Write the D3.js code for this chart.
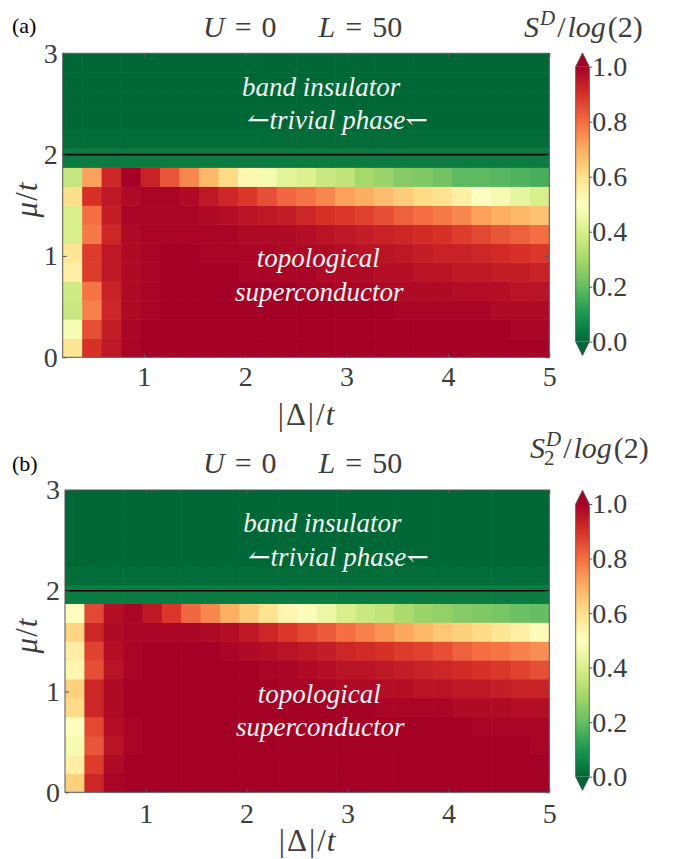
<!DOCTYPE html>
<html><head><meta charset="utf-8">
<script src="https://cdn.jsdelivr.net/npm/d3@7"></script>
<style>body{margin:0;background:#fff} svg{display:block} svg text{font-family:"Liberation Serif","DejaVu Serif",serif !important;}</style>
</head><body>
<svg id="chart" width="685" height="859"></svg>
<script>
// ---------------- data ----------------
const deltaValues = [0.2,0.4,0.6,0.8,1.0,1.2,1.4,1.6,1.8,2.0,2.2,2.4,2.6,2.8,3.0,3.2,3.4,3.6,3.8,4.0,4.2,4.4,4.6,4.8,5.0];
const muValues = [0.0,0.2,0.4,0.6,0.8,1.0,1.2,1.4,1.6,1.8,2.0,2.2,2.4,2.6,2.8,3.0];
const deltaTicks = [1,2,3,4,5];
const muTicks = [0,1,2,3];
const colorbarTicks = [0.0,0.2,0.4,0.6,0.8,1.0];
const colormapStops = ['#006837','#1a9850','#66bd63','#a6d96a','#d9ef8b','#ffffbf','#fee08b','#fdae61','#f46d43','#d73027','#a50026'];

// S^D/log(2), rows = mu (bottom to top), columns = |Delta|
const entropyA = [
 [0.58,0.90,0.95,0.99,1.00,1.00,1.00,1.00,1.00,1.00,1.00,1.00,1.00,1.00,1.00,1.00,1.00,1.00,1.00,1.00,1.00,1.00,1.00,1.00,1.00],
 [0.48,0.85,0.94,0.99,1.00,1.00,1.00,1.00,1.00,1.00,1.00,1.00,1.00,1.00,1.00,1.00,1.00,1.00,1.00,1.00,1.00,1.00,1.00,0.99,0.99],
 [0.37,0.77,0.92,0.98,0.99,1.00,1.00,1.00,1.00,1.00,1.00,1.00,1.00,1.00,1.00,1.00,1.00,0.99,0.99,0.99,0.99,0.99,0.98,0.98,0.98],
 [0.38,0.79,0.93,0.98,0.99,1.00,1.00,1.00,1.00,1.00,1.00,1.00,0.99,0.99,0.99,0.99,0.98,0.98,0.98,0.98,0.97,0.97,0.97,0.96,0.96],
 [0.55,0.88,0.95,0.98,0.99,1.00,1.00,1.00,1.00,0.99,0.99,0.99,0.99,0.98,0.98,0.98,0.97,0.97,0.96,0.96,0.95,0.95,0.94,0.94,0.93],
 [0.58,0.88,0.95,0.98,0.99,1.00,1.00,0.99,0.99,0.99,0.99,0.98,0.98,0.98,0.97,0.96,0.96,0.95,0.94,0.93,0.93,0.92,0.91,0.90,0.89],
 [0.40,0.78,0.92,0.98,0.99,0.99,0.99,0.99,0.99,0.98,0.98,0.98,0.97,0.96,0.95,0.94,0.93,0.92,0.91,0.90,0.88,0.86,0.84,0.82,0.80],
 [0.40,0.80,0.94,0.99,0.99,0.99,0.99,0.98,0.97,0.96,0.95,0.94,0.92,0.90,0.89,0.87,0.85,0.82,0.80,0.78,0.76,0.72,0.70,0.68,0.66],
 [0.60,0.90,0.95,0.98,0.99,0.99,0.98,0.95,0.92,0.89,0.85,0.81,0.79,0.76,0.72,0.70,0.67,0.64,0.61,0.59,0.55,0.50,0.47,0.44,0.40],
 [0.36,0.72,0.92,1.00,0.93,0.84,0.76,0.68,0.61,0.53,0.47,0.43,0.41,0.37,0.35,0.30,0.28,0.25,0.24,0.22,0.19,0.19,0.18,0.17,0.16],
 [0.04,0.04,0.04,0.04,0.04,0.04,0.04,0.04,0.04,0.04,0.04,0.04,0.04,0.04,0.04,0.04,0.04,0.04,0.04,0.04,0.04,0.04,0.04,0.04,0.04],
 [0.01,0.01,0.01,0.01,0.01,0.01,0.01,0.01,0.01,0.01,0.01,0.01,0.01,0.01,0.01,0.01,0.01,0.01,0.01,0.01,0.01,0.01,0.01,0.01,0.01],
 [0,0,0,0,0,0,0,0,0,0,0,0,0,0,0,0,0,0,0,0,0,0,0,0,0],
 [0,0,0,0,0,0,0,0,0,0,0,0,0,0,0,0,0,0,0,0,0,0,0,0,0],
 [0,0,0,0,0,0,0,0,0,0,0,0,0,0,0,0,0,0,0,0,0,0,0,0,0],
 [0,0,0,0,0,0,0,0,0,0,0,0,0,0,0,0,0,0,0,0,0,0,0,0,0]
];

// S_2^D/log(2)
const entropyB = [
 [0.63,0.92,0.99,1.00,1.00,1.00,1.00,1.00,1.00,1.00,1.00,1.00,1.00,1.00,1.00,1.00,1.00,1.00,1.00,1.00,1.00,1.00,1.00,1.00,1.00],
 [0.55,0.88,0.98,1.00,1.00,1.00,1.00,1.00,1.00,1.00,1.00,1.00,1.00,1.00,1.00,1.00,1.00,1.00,1.00,1.00,1.00,1.00,1.00,1.00,1.00],
 [0.47,0.84,0.96,0.99,1.00,1.00,1.00,1.00,1.00,1.00,1.00,1.00,1.00,1.00,1.00,1.00,1.00,1.00,1.00,1.00,1.00,1.00,1.00,1.00,0.99],
 [0.50,0.86,0.97,0.99,1.00,1.00,1.00,1.00,1.00,1.00,1.00,1.00,1.00,1.00,1.00,1.00,1.00,1.00,1.00,1.00,1.00,0.99,0.99,0.99,0.99],
 [0.61,0.92,0.98,1.00,1.00,1.00,1.00,1.00,1.00,1.00,1.00,1.00,1.00,1.00,1.00,1.00,0.99,0.99,0.99,0.99,0.98,0.98,0.98,0.97,0.97],
 [0.63,0.92,0.98,1.00,1.00,1.00,1.00,1.00,1.00,1.00,1.00,0.99,0.99,0.99,0.98,0.98,0.97,0.97,0.96,0.96,0.95,0.95,0.94,0.93,0.93],
 [0.53,0.85,0.96,0.99,1.00,1.00,1.00,1.00,1.00,1.00,0.99,0.99,0.98,0.97,0.96,0.96,0.95,0.94,0.93,0.92,0.91,0.90,0.89,0.87,0.85],
 [0.55,0.87,0.97,0.99,1.00,1.00,1.00,1.00,0.99,0.98,0.97,0.96,0.95,0.94,0.92,0.91,0.90,0.88,0.87,0.85,0.82,0.80,0.79,0.77,0.75],
 [0.62,0.92,0.98,0.99,0.99,0.99,0.99,0.98,0.97,0.95,0.92,0.89,0.86,0.83,0.80,0.77,0.74,0.71,0.68,0.65,0.63,0.61,0.58,0.55,0.51],
 [0.50,0.86,0.97,0.99,0.95,0.89,0.81,0.76,0.70,0.64,0.59,0.53,0.49,0.45,0.40,0.37,0.35,0.31,0.28,0.27,0.25,0.24,0.23,0.21,0.20],
 [0.04,0.04,0.04,0.04,0.04,0.04,0.04,0.04,0.04,0.04,0.04,0.04,0.04,0.04,0.04,0.04,0.04,0.04,0.04,0.04,0.04,0.04,0.04,0.04,0.04],
 [0.01,0.01,0.01,0.01,0.01,0.01,0.01,0.01,0.01,0.01,0.01,0.01,0.01,0.01,0.01,0.01,0.01,0.01,0.01,0.01,0.01,0.01,0.01,0.01,0.01],
 [0,0,0,0,0,0,0,0,0,0,0,0,0,0,0,0,0,0,0,0,0,0,0,0,0],
 [0,0,0,0,0,0,0,0,0,0,0,0,0,0,0,0,0,0,0,0,0,0,0,0,0],
 [0,0,0,0,0,0,0,0,0,0,0,0,0,0,0,0,0,0,0,0,0,0,0,0,0],
 [0,0,0,0,0,0,0,0,0,0,0,0,0,0,0,0,0,0,0,0,0,0,0,0,0]
];

const panelLabels = ['(a)','(b)'];
const phaseTexts = ['band insulator','\u21BCtrivial phase\u21BD','topological','superconductor'];

// ---------------- layout / style ----------------
const FONT = '"Liberation Serif","DejaVu Serif",serif';
const TXT = '#3d3d3d';
const AX = '#555555';
const svg = d3.select('#chart');

const cmap = d3.scaleLinear()
  .domain(colormapStops.map((c,i)=>i/(colormapStops.length-1)))
  .range(colormapStops).interpolate(d3.interpolateRgb).clamp(true);

const panels = [
  {grid: entropyA, tag: panelLabels[0], left:62.7, right:549.3, top:53.3, bottom:357.3,
   xPad:9, xLabelY:425, yLabelY:200, titleY:37, tagY:33,
   cbTop:66.7, cbBottom:341.7, cbLabelY:37, cbLabelX:524, sub:false},
  {grid: entropyB, tag: panelLabels[1], left:65, right:549.3, top:490, bottom:792.3,
   xPad:11, xLabelY:851, yLabelY:636, titleY:473, tagY:471,
   cbTop:504, cbBottom:776.7, cbLabelY:458, cbLabelX:530, sub:true}
];

const measurer = svg.append('text').attr('visibility','hidden');
function measure(str, size, italic){
  measurer.attr('font-size',size).attr('font-style',italic?'italic':'normal').text(str);
  return measurer.node().getComputedTextLength();
}

panels.forEach((p,pi)=>{
  const g = svg.append('g');
  const x = d3.scaleLinear().domain([0.2,5]).range([p.left,p.right]);
  const y = d3.scaleLinear().domain([0,3]).range([p.bottom,p.top]);
  const xb = d3.scaleBand().domain(deltaValues).range([x(0.2), x(5)]);
  const yb = d3.scaleBand().domain(muValues).range([y(0), y(3)]);

  const clipId = 'clip'+pi;
  svg.append('clipPath').attr('id',clipId).append('rect')
    .attr('x',p.left).attr('y',p.top).attr('width',p.right-p.left).attr('height',p.bottom-p.top);

  const cells = [];
  p.grid.forEach((row,i)=>row.forEach((v,j)=>cells.push({mu:muValues[i], delta:deltaValues[j], v})));
  g.append('g').attr('clip-path',`url(#${clipId})`)
    .selectAll('rect').data(cells).join('rect')
    .attr('x',d=>xb(d.delta)).attr('y',d=>yb(d.mu))
    .attr('width',xb.bandwidth()+0.6).attr('height',yb.bandwidth()+0.6)
    .attr('fill',d=>cmap(d.v));

  // phase boundary line at mu = 2
  g.append('line').attr('x1',p.left).attr('x2',p.right).attr('y1',y(2)).attr('y2',y(2))
    .attr('stroke','#000').attr('stroke-width',1.6);

  // annotations
  const ann = [
    {t:phaseTexts[0], x:x(2.75), y:y(2.58)},
    {t:phaseTexts[1], x:x(2.91), y:y(2.25)},
    {t:phaseTexts[2], x:x(2.72), y:y(0.89)},
    {t:phaseTexts[3], x:x(2.73), y:y(0.56)}
  ];
  g.selectAll('text.ann').data(ann).join('text').attr('class','ann')
    .attr('x',d=>d.x).attr('y',d=>d.y).attr('text-anchor','middle')
    .attr('font-style','italic').attr('font-size',27)
    .attr('fill','#f4f4f4').text(d=>d.t);

  // axes
  const styleAxis = sel => {
    sel.attr('font-family',null);
    sel.select('.domain').remove();
    sel.selectAll('line').attr('stroke',AX).attr('stroke-width',1);
    sel.selectAll('text').attr('font-size',28).attr('fill',TXT);
  };
  g.append('g').attr('transform',`translate(0,${p.bottom})`)
    .call(d3.axisBottom(x).tickValues(deltaTicks).tickFormat(d3.format('d')).tickSize(-4).tickPadding(p.xPad)).call(styleAxis);
  g.append('g').attr('transform',`translate(0,${p.top})`)
    .call(d3.axisTop(x).tickValues(deltaTicks).tickFormat('').tickSize(-4)).call(styleAxis);
  g.append('g').attr('transform',`translate(${p.left},0)`)
    .call(d3.axisLeft(y).tickValues(muTicks).tickFormat(d3.format('d')).tickSize(-4).tickPadding(5)).call(styleAxis);
  g.append('g').attr('transform',`translate(${p.right},0)`)
    .call(d3.axisRight(y).tickValues(muTicks).tickFormat('').tickSize(-4)).call(styleAxis);

  g.append('rect').attr('x',p.left).attr('y',p.top).attr('width',p.right-p.left).attr('height',p.bottom-p.top)
    .attr('fill','none').attr('stroke',AX).attr('stroke-width',1);

  // axis labels
  const xl = g.append('text').attr('x',x(2.6)).attr('y',p.xLabelY).attr('text-anchor','middle')
    .attr('font-size',31).attr('fill',TXT);
  xl.append('tspan').text('|');
  xl.append('tspan').attr('dx',2).text('\u0394');
  xl.append('tspan').attr('dx',2).text('|');
  xl.append('tspan').attr('dx',2).text('/');
  xl.append('tspan').attr('dx',1).attr('font-style','italic').text('t');

  const yl = g.append('text').attr('transform',`translate(37,${p.yLabelY}) rotate(-90)`).attr('text-anchor','middle')
    .attr('font-size',31).attr('fill',TXT);
  yl.append('tspan').attr('font-style','italic').text('\u03BC');
  yl.append('tspan').attr('dx',1).text('/');
  yl.append('tspan').attr('dx',1).attr('font-style','italic').text('t');

  // panel tag
  g.append('text').attr('x',12).attr('y',p.tagY).attr('font-size',22)
    .attr('fill','#000').text(p.tag);

  // title
  const tt = g.append('text').attr('x',203).attr('y',p.titleY).attr('font-size',30).attr('fill',TXT);
  tt.append('tspan').attr('font-style','italic').text('U');
  tt.append('tspan').attr('dx',10).text('=');
  tt.append('tspan').attr('dx',10).text('0');
  tt.append('tspan').attr('dx',42).attr('font-style','italic').text('L');
  tt.append('tspan').attr('dx',10).text('=');
  tt.append('tspan').attr('dx',10).text('50');

  // colorbar
  const cbX = 575.7, cbW = 13.6;
  const cy = d3.scaleLinear().domain([0,1]).range([p.cbBottom,p.cbTop]);
  const ext = 0.05*(p.cbBottom-p.cbTop);
  const gradId = 'grad'+pi;
  const grad = svg.append('defs').append('linearGradient').attr('id',gradId)
    .attr('x1',0).attr('y1',1).attr('x2',0).attr('y2',0);
  colormapStops.forEach((c,i)=>grad.append('stop').attr('offset',i/(colormapStops.length-1)).attr('stop-color',c));
  g.append('rect').attr('x',cbX).attr('y',cy(1)).attr('width',cbW).attr('height',cy(0)-cy(1)).attr('fill',`url(#${gradId})`);
  g.append('path').attr('d',`M${cbX},${cy(1)}L${cbX+cbW/2},${cy(1)-ext}L${cbX+cbW},${cy(1)}Z`).attr('fill',cmap(1));
  g.append('path').attr('d',`M${cbX},${cy(0)}L${cbX+cbW/2},${cy(0)+ext}L${cbX+cbW},${cy(0)}Z`).attr('fill',cmap(0));
  g.append('path').attr('d',`M${cbX},${cy(0)}L${cbX},${cy(1)}L${cbX+cbW/2},${cy(1)-ext}L${cbX+cbW},${cy(1)}L${cbX+cbW},${cy(0)}L${cbX+cbW/2},${cy(0)+ext}Z`)
    .attr('fill','none').attr('stroke',AX).attr('stroke-width',0.9);
  g.append('g').attr('transform',`translate(${cbX+cbW},0)`)
    .call(d3.axisRight(cy).tickValues(colorbarTicks).tickFormat(d3.format('.1f')).tickSize(3).tickPadding(0))
    .call(styleAxis);

  // colorbar label (single text element with super/subscripts)
  const dW = measure('D',21,true);
  const twoW = measure('2',21,false);
  const lab = g.append('text').attr('x',p.cbLabelX).attr('y',p.cbLabelY).attr('font-size',30).attr('fill',TXT);
  lab.append('tspan').attr('font-style','italic').text('S');
  lab.append('tspan').attr('dx',1).attr('dy',-12).attr('font-size',21).attr('font-style','italic').text('D');
  if (p.sub){
    lab.append('tspan').attr('dx',-dW-2).attr('dy',19).attr('font-size',21).text('2');
    lab.append('tspan').attr('dx',Math.max(dW-twoW,0)+4).attr('dy',-7).text('/');
  } else {
    lab.append('tspan').attr('dx',2).attr('dy',12).text('/');
  }
  lab.append('tspan').attr('dx',2).attr('font-style','italic').text('log');
  lab.append('tspan').attr('dx',2).text('(2)');
});
measurer.remove();
</script>
</body></html>
